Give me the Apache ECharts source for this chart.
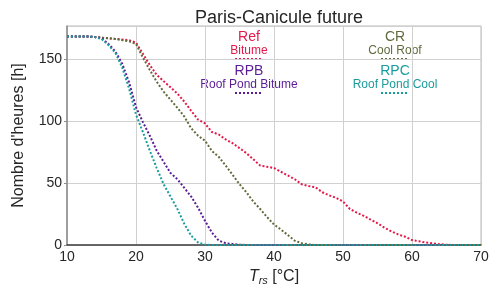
<!DOCTYPE html>
<html>
<head>
<meta charset="utf-8">
<script src="https://cdn.jsdelivr.net/npm/echarts@6/dist/echarts.min.js"></script>
<style>
  html, body { margin: 0; padding: 0; background: #fff; }
  #chart { width: 492px; height: 286px; }
</style>
</head>
<body>
<div id="chart"></div>
<script>
// temperatures (°C), one point per degree
var temps = [];
for (var t = 10; t <= 70; t++) temps.push(t);

// hours above each temperature
var refBitume = [168, 168, 168, 168, 167.5, 167, 166.5, 166, 165.5, 165,
  163, 154, 145, 137, 132, 127, 122, 115.5, 108, 101,
  98, 91, 89, 85, 82, 78, 74, 69, 64, 63,
  62, 59, 56, 53, 49, 47.5, 46.5, 42.5, 40, 38,
  35, 29, 26, 23.5, 20.5, 17.5, 14, 11, 8.5, 6.7,
  4, 3, 2, 1.4, 0.7, 0.2, 0, 0, 0, 0, 0];
var coolRoof = [168, 168, 168, 168, 167.5, 167, 166.5, 166, 165, 164,
  162, 151, 141, 131.5, 123.5, 117, 110.5, 103.5, 94, 88,
  84, 75.7, 71, 64, 56.5, 49, 42.5, 35, 29, 22.5,
  16.5, 12.5, 8, 3.5, 1.5, 0.5, 0, 0, 0, 0,
  0, 0, 0, 0, 0, 0, 0, 0, 0, 0,
  0, 0, 0, 0, 0, 0, 0, 0, 0, 0, 0];
var roofPondBitume = [168, 168, 168, 168, 167.5, 166.5, 162, 156, 146, 131,
  111, 99, 88, 76, 67, 58, 53, 46, 39, 30,
  19.5, 10, 3.5, 1.5, 0.8, 0.3, 0, 0, 0, 0,
  0, 0, 0, 0, 0, 0, 0, 0, 0, 0,
  0, 0, 0, 0, 0, 0, 0, 0, 0, 0,
  0, 0, 0, 0, 0, 0, 0, 0, 0, 0, 0];
var roofPondCool = [168, 168, 168, 168, 167.5, 166, 161, 155, 143, 126,
  105, 91, 76, 62, 49, 39, 29, 17, 7.5, 2,
  0.3, 0, 0, 0, 0, 0, 0, 0, 0, 0,
  0, 0, 0, 0, 0, 0, 0, 0, 0, 0,
  0, 0, 0, 0, 0, 0, 0, 0, 0, 0,
  0, 0, 0, 0, 0, 0, 0, 0, 0, 0, 0];

var yTicks = [0, 50, 100, 150];

var colors = {
  ref: '#e3194b',
  cr: '#5e6b3a',
  rpb: '#5a1d96',
  rpc: '#1b9c9c'
};
var dots = [2, 1.9];
var font = 'Liberation Sans, Arial, sans-serif';

function pairs(vals) {
  return temps.map(function (t, i) { return [t, vals[i]]; });
}

function serie(name, vals, color) {
  return {
    name: name,
    type: 'line',
    data: pairs(vals),
    symbol: 'none',
    smooth: false,
    animation: false,
    lineStyle: { color: color, width: 2, type: dots }
  };
}

// legend block: title, subtitle and a short dotted sample
function legendItem(cx, y, title, sub, color) {
  return [
    { type: 'text', x: cx, y: y, style: { text: title, fill: color, font: '14px ' + font, align: 'center', verticalAlign: 'middle' } },
    { type: 'text', x: cx, y: y + 14, style: { text: sub, fill: color, font: '12px ' + font, align: 'center', verticalAlign: 'middle' } },
    { type: 'line', shape: { x1: cx - 14, y1: y + 22, x2: cx + 14, y2: y + 22 },
      style: { stroke: color, lineWidth: 2, lineDash: [2, 2] } }
  ];
}

var chart = echarts.init(document.getElementById('chart'), null, { renderer: 'canvas' });

chart.setOption({
  backgroundColor: '#fff',
  animation: false,
  title: {
    text: 'Paris-Canicule future',
    left: 274, top: 4, textAlign: 'center',
    textStyle: { fontFamily: font, fontSize: 18, fontWeight: 'normal', color: '#262626' }
  },
  grid: {
    left: 67, right: 11, top: 26, bottom: 41,
    outerBoundsMode: 'none', containLabel: false,
    show: true, borderColor: '#b8b8b8', borderWidth: 1
  },
  xAxis: {
    type: 'value', min: 10, max: 70, interval: 10,
    name: '{t|T}{s|rs}{n| [°C]}',
    nameLocation: 'middle', nameGap: 20,
    nameTextStyle: {
      rich: {
        t: { fontFamily: font, fontSize: 16, fontStyle: 'italic', color: '#262626', verticalAlign: 'bottom' },
        s: { fontFamily: font, fontSize: 11, fontStyle: 'italic', color: '#262626', verticalAlign: 'bottom', padding: [0, 0, -2, 0] },
        n: { fontFamily: font, fontSize: 16, color: '#262626', verticalAlign: 'bottom' }
      }
    },
    axisLine: { show: true, lineStyle: { color: '#404040', width: 1.5 } },
    axisTick: { show: false },
    axisLabel: { fontFamily: font, fontSize: 14, color: '#262626', margin: 5 },
    splitLine: { show: true, lineStyle: { color: '#d0d0d0', width: 1 } }
  },
  yAxis: {
    type: 'value', min: 0, max: 176.4, interval: 50,
    name: "Nombre d'heures [h]",
    nameLocation: 'middle', nameGap: 40,
    nameTextStyle: { fontFamily: font, fontSize: 16, color: '#262626' },
    axisLine: { show: true, lineStyle: { color: '#8c8c8c', width: 1.5 } },
    axisTick: { show: true, length: 3, lineStyle: { color: '#8c8c8c' } },
    axisLabel: {
      fontFamily: font, fontSize: 14, color: '#262626', margin: 5,
      showMaxLabel: false,
      formatter: function (v) { return yTicks.indexOf(v) >= 0 ? String(v) : ''; }
    },
    splitLine: { show: true, lineStyle: { color: '#d0d0d0', width: 1 } }
  },
  series: [
    serie('Ref', refBitume, colors.ref),
    serie('CR', coolRoof, colors.cr),
    serie('RPB', roofPondBitume, colors.rpb),
    serie('RPC', roofPondCool, colors.rpc)
  ],
  graphic: [].concat(
    legendItem(249, 37, 'Ref', 'Bitume', colors.ref),
    legendItem(395, 37, 'CR', 'Cool Roof', colors.cr),
    legendItem(249, 71, 'RPB', 'Roof Pond Bitume', colors.rpb),
    legendItem(395, 71, 'RPC', 'Roof Pond Cool', colors.rpc)
  )
});
</script>
</body>
</html>
